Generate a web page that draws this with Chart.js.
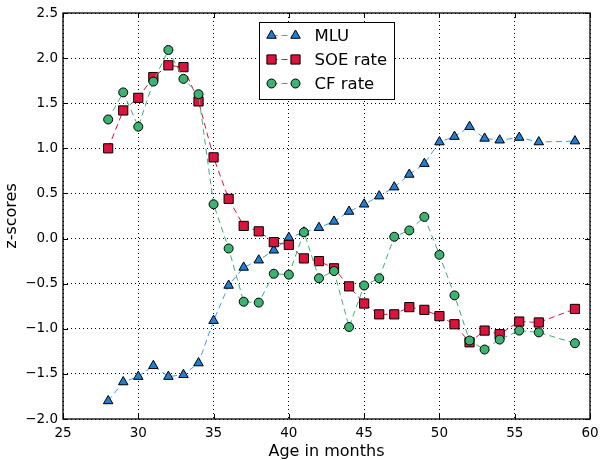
<!DOCTYPE html>
<html>
<head>
<meta charset="utf-8">
<script src="https://cdn.jsdelivr.net/npm/chart.js@4.4.0/dist/chart.umd.min.js"></script>
<style>
  body { margin: 0; background: #fff; }
  canvas { display: block; }
</style>
</head>
<body>
<canvas id="myChart" width="601" height="460"></canvas>
<script>
var ages = [28, 29, 30, 31, 32, 33, 34, 35, 36, 37, 38, 39, 40, 41, 42, 43, 44, 45, 46, 47,
            48, 49, 50, 51, 52, 53, 54, 55.3, 56.6, 59];
var mlu = [-1.80, -1.59, -1.53, -1.41, -1.53, -1.51, -1.38, -0.91, -0.52, -0.32, -0.24, -0.13, 0.01, 0.07, 0.12,
           0.19, 0.30, 0.38, 0.47, 0.57, 0.71, 0.83, 1.07, 1.13, 1.24, 1.11, 1.09, 1.12, 1.07, 1.08];
var soeRate = [1.00, 1.42, 1.56, 1.79, 1.92, 1.90, 1.52, 0.90, 0.44, 0.14, 0.08, -0.04, -0.07, -0.22, -0.25,
               -0.33, -0.53, -0.72, -0.84, -0.84, -0.76, -0.79, -0.86, -0.95, -1.15, -1.02, -1.06, -0.92, -0.93, -0.78];
var cfRate = [1.32, 1.62, 1.24, 1.74, 2.09, 1.77, 1.60, 0.38, -0.11, -0.70, -0.71, -0.39, -0.40, 0.07, -0.44,
              -0.36, -0.98, -0.52, -0.44, 0.02, 0.09, 0.24, -0.18, -0.63, -1.13, -1.23, -1.12, -1.02, -1.04, -1.16];
var seriesNames = ["MLU", "SOE rate", "CF rate"];

function pts(vals) {
  return vals.map(function (v, i) { return {x: ages[i], y: v}; });
}

var font = "'DejaVu Sans', sans-serif";

// frame, inward ticks and a matplotlib-style legend
var mplExtras = {
  id: "mplExtras",
  afterDraw: function (chart) {
    var ctx = chart.ctx, a = chart.chartArea;
    var xs = chart.scales.x, ys = chart.scales.y;
    ctx.save();
    ctx.strokeStyle = "#000";
    ctx.lineWidth = 1;
    xs.ticks.forEach(function (t) {
      var px = Math.round(xs.getPixelForValue(t.value)) + 0.5;
      ctx.beginPath();
      ctx.moveTo(px, a.bottom); ctx.lineTo(px, a.bottom - 5);
      ctx.moveTo(px, a.top); ctx.lineTo(px, a.top + 5);
      ctx.stroke();
    });
    ys.ticks.forEach(function (t) {
      var py = Math.round(ys.getPixelForValue(t.value)) + 0.5;
      ctx.beginPath();
      ctx.moveTo(a.left, py); ctx.lineTo(a.left + 5, py);
      ctx.moveTo(a.right, py); ctx.lineTo(a.right - 5, py);
      ctx.stroke();
    });
    ctx.lineWidth = 1.3;
    ctx.strokeRect(a.left, a.top, a.right - a.left, a.bottom - a.top);

    // legend
    var w = 135, h = 77;
    var bx = Math.round((a.left + a.right) / 2 - w / 2) + 0.5;
    var by = a.top + 9.5;
    ctx.fillStyle = "#fff";
    ctx.fillRect(bx, by, w, h);
    ctx.lineWidth = 1;
    ctx.strokeRect(bx, by, w, h);
    chart.data.datasets.forEach(function (ds, k) {
      var ry = by + 13 + k * 24;
      var x1 = bx + 12, x2 = bx + 36;
      ctx.save();
      ctx.strokeStyle = ds.borderColor;
      ctx.lineWidth = ds.borderWidth;
      ctx.setLineDash(ds.borderDash);
      ctx.beginPath(); ctx.moveTo(x1, ry); ctx.lineTo(x2, ry); ctx.stroke();
      ctx.restore();
      [x1, x2].forEach(function (mx) {
        ctx.save();
        ctx.fillStyle = ds.pointBackgroundColor;
        ctx.strokeStyle = "#000";
        ctx.lineWidth = 1;
        Chart.helpers.drawPoint(ctx, {pointStyle: ds.pointStyle, radius: ds.pointRadius, borderWidth: 1, rotation: 0}, mx, ry);
        ctx.restore();
      });
      ctx.fillStyle = "#000";
      ctx.font = "16.5px " + font;
      ctx.textBaseline = "middle";
      ctx.fillText(ds.label, bx + 55, ry + 1);
    });
    ctx.restore();
  }
};

new Chart("myChart", {
  type: "scatter",
  data: {
    datasets: [{
      label: seriesNames[0],
      data: pts(mlu),
      showLine: true,
      borderColor: "#3f9cf0",
      borderWidth: 1,
      borderDash: [6, 4],
      pointStyle: "triangle",
      pointRadius: 5.5,
      pointHoverRadius: 5.5,
      pointBackgroundColor: "#1f7fd8",
      pointBorderColor: "#000",
      pointBorderWidth: 1,
      order: 2
    }, {
      label: seriesNames[1],
      data: pts(soeRate),
      showLine: true,
      borderColor: "#dc143c",
      borderWidth: 1,
      borderDash: [6, 4],
      pointStyle: "rect",
      pointRadius: 6.5,
      pointHoverRadius: 6.5,
      pointBackgroundColor: "#dc143c",
      pointBorderColor: "#000",
      pointBorderWidth: 1,
      order: 1
    }, {
      label: seriesNames[2],
      data: pts(cfRate),
      showLine: true,
      borderColor: "#3cb371",
      borderWidth: 1,
      borderDash: [6, 4],
      pointStyle: "circle",
      pointRadius: 4.5,
      pointHoverRadius: 4.5,
      pointBackgroundColor: "#3cb371",
      pointBorderColor: "#000",
      pointBorderWidth: 1,
      order: 0
    }]
  },
  options: {
    responsive: false,
    animation: false,
    layout: {padding: {top: 13, right: 11, left: 0, bottom: 0}},
    plugins: {legend: {display: false}, tooltip: {enabled: false}},
    scales: {
      x: {
        type: "linear",
        min: 25, max: 60,
        afterFit: function (s) { s.height = 41; s.paddingLeft = 0; s.paddingRight = 0; },
        ticks: {stepSize: 5, padding: 6, color: "#000", font: {family: font, size: 13.5}},
        grid: {color: "#000", lineWidth: 1, drawTicks: false},
        border: {display: false, dash: [1, 3]},
        title: {display: true, text: "Age in months", color: "#000", font: {family: font, size: 16, lineHeight: 1}, padding: {top: 0, bottom: 0}}
      },
      y: {
        min: -2, max: 2.5,
        afterFit: function (s) { s.width = 63; s.paddingTop = 0; s.paddingBottom = 0; },
        ticks: {
          stepSize: 0.5, padding: 5, color: "#000", font: {family: font, size: 13.5},
          callback: function (v) { return v < 0 ? "\u2212" + Math.abs(v).toFixed(1) : v.toFixed(1); }
        },
        grid: {color: "#000", lineWidth: 1, drawTicks: false},
        border: {display: false, dash: [1, 3]},
        title: {display: true, text: "z-scores", color: "#000", font: {family: font, size: 16}, padding: {top: 2, bottom: 0}}
      }
    }
  },
  plugins: [mplExtras]
});
</script>
</body>
</html>
